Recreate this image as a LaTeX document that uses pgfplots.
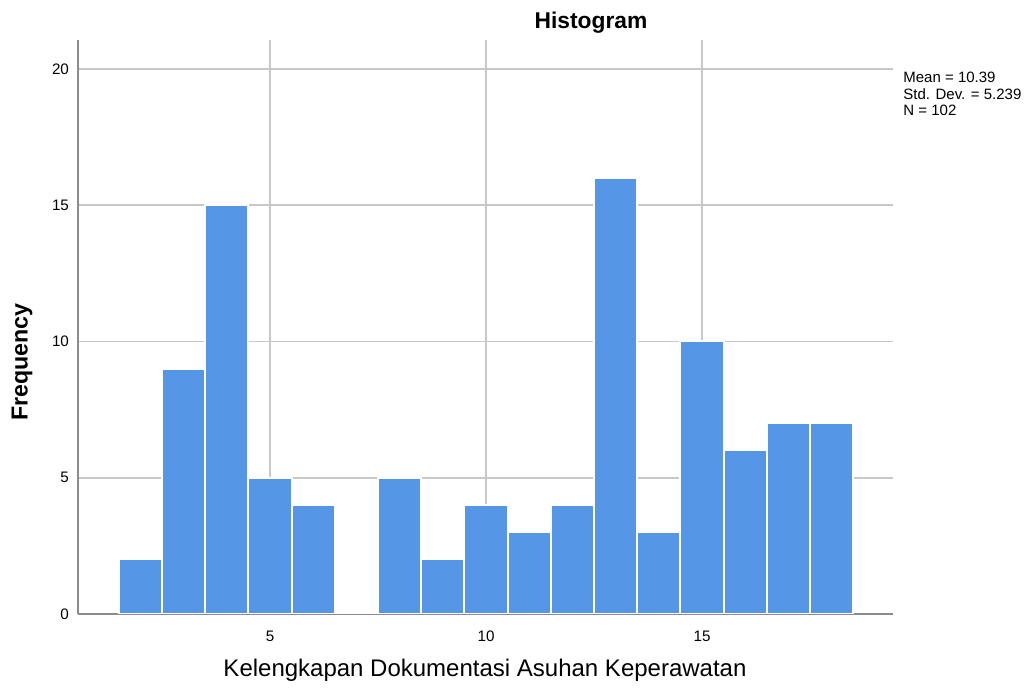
\documentclass[border=0pt]{standalone}
\usepackage{fontspec}
\setmainfont{Liberation Sans}
\usepackage{pgfplots}
\pgfplotsset{compat=1.18}
\definecolor{barblue}{RGB}{85,150,230}
\definecolor{gridgray}{RGB}{200,200,200}
\definecolor{axgray}{RGB}{140,140,140}
\begin{document}
\begin{tikzpicture}
\path[use as bounding box] (0pt,0pt) rectangle (513.5pt,344.5pt);
\begin{axis}[
  at={(39pt,37.5pt)}, anchor=south west,
  scale only axis, width=407.5pt, height=287pt,
  xmin=0.556, xmax=19.42, ymin=0, ymax=21.06,
  axis x line=bottom, axis y line=left,
  axis line style={-, draw=axgray, line width=1pt},
  xtick={5,10,15}, ytick={0,5,10,15,20},
  major tick length=0pt,
  grid=major, major grid style={draw=gridgray, line width=0.8pt},
  tick label style={font=\fontsize{7.6}{9}\selectfont},
  /pgf/number format/assume math mode=true,
  xticklabel style={yshift=-5pt},
  yticklabel style={xshift=-1pt},
]
\addplot[ybar, bar width=1, fill=barblue, draw=white, line width=1pt] coordinates {
(2,2) (3,9) (4,15) (5,5) (6,4) (7,0) (8,5) (9,2) (10,4) (11,3) (12,4) (13,16) (14,3) (15,10) (16,6) (17,7) (18,7)
};
\end{axis}
\node[font=\bfseries\fontsize{11.4}{13}\selectfont] at (295.5pt,333pt) {Histogram};
\node[font=\bfseries\fontsize{11.6}{13}\selectfont, rotate=90] at (11pt,163.5pt) {Frequency};
\node[font=\fontsize{12}{14}\selectfont] at (242.5pt,9.5pt) {Kelengkapan Dokumentasi Asuhan Keperawatan};
\node[font=\fontsize{7.5}{9}\selectfont, anchor=north west, align=left, inner sep=0pt] at (451.5pt,308.5pt)
  {Mean = 10.39\\[-0.75pt]Std. Dev. = 5.239\\[-0.75pt]N = 102};
\end{tikzpicture}
\end{document}
